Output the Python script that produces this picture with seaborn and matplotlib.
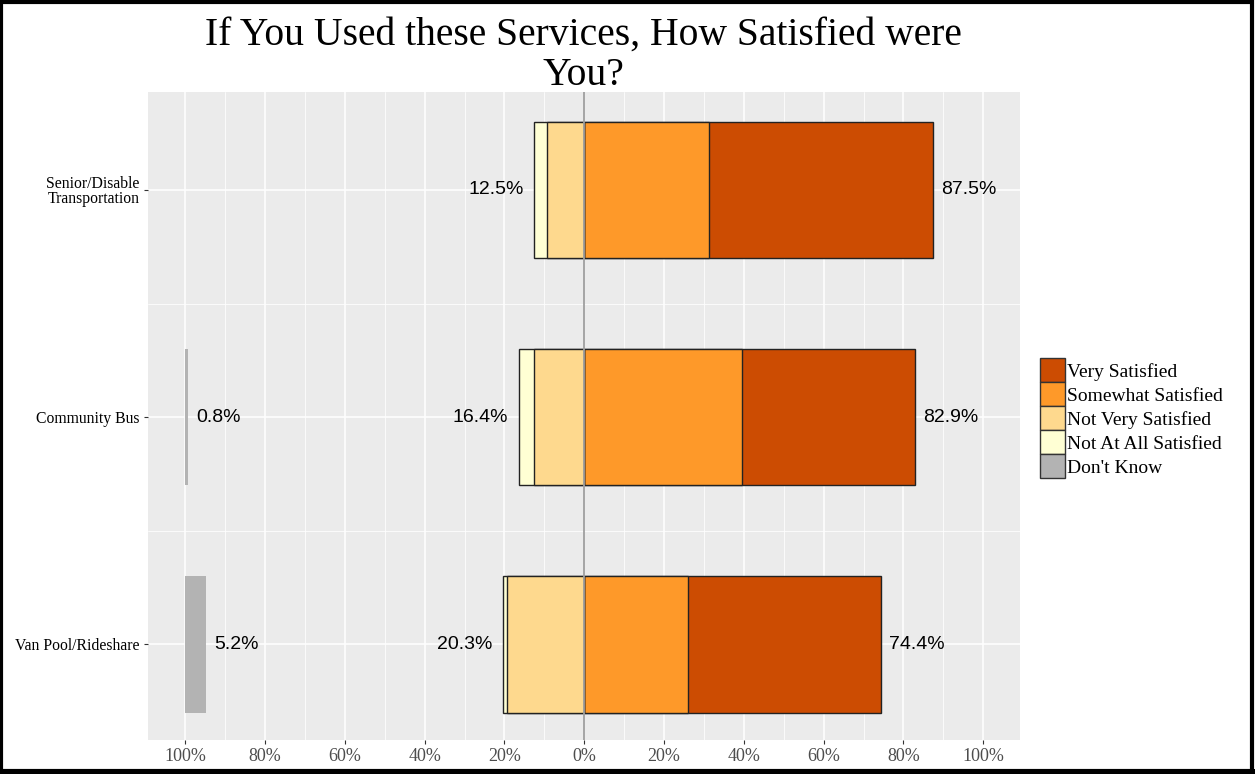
import pandas as pd
import seaborn as sns
import matplotlib.pyplot as plt
from matplotlib.patches import Patch, Rectangle

# survey data (percent of respondents)
services = ["Senior/Disable\nTransportation", "Community Bus", "Van Pool/Rideshare"]
very = [56.25, 43.4, 48.4]
somewhat = [31.25, 39.5, 26.0]
not_very = [9.4, 12.7, 19.3]
not_at_all = [3.1, 3.7, 1.0]
dont_know = [0.0, 0.8, 5.2]

levels = ["Very Satisfied", "Somewhat Satisfied", "Not Very Satisfied",
          "Not At All Satisfied", "Don't Know"]
colors = ["#CC4C02", "#FE9929", "#FED98E", "#FFFFD4", "#B3B3B3"]

df = pd.DataFrame({"service": services, "very": very, "somewhat": somewhat,
                   "not_very": not_very, "not_at_all": not_at_all,
                   "dont_know": dont_know})
df["pos_total"] = df["somewhat"] + df["very"]
df["neg_total"] = -(df["not_very"] + df["not_at_all"])
df["neg_inner"] = -df["not_very"]

sns.set_style("darkgrid", {"axes.facecolor": "#EBEBEB"})
serif = "Liberation Serif"
sans = "Liberation Sans"

fig = plt.figure(figsize=(12.55, 7.74), dpi=100)
ax = fig.add_axes([0.118, 0.044, 0.695, 0.837])

edge = dict(edgecolor="#222222", linewidth=1.0, saturation=1, width=0.6,
            errorbar=None, ax=ax)

# stacked by drawing the longest segment first, shorter ones on top
sns.barplot(data=df, y="service", x="pos_total", color=colors[0], **edge)
sns.barplot(data=df, y="service", x="somewhat", color=colors[1], **edge)
sns.barplot(data=df, y="service", x="neg_total", color=colors[3], **edge)
sns.barplot(data=df, y="service", x="neg_inner", color=colors[2], **edge)

# don't know bars start at the left end of the scale
ax.barh(range(len(services)), df["dont_know"], left=-100, height=0.6,
        color=colors[4], linewidth=0)

ax.axvline(0, color="#9E9E9E", lw=1.3, zorder=6)

# value labels
for i, row in df.iterrows():
    ax.text(row["neg_total"] - 2.6, i, f"{-row['neg_total']:.1f}%", ha="right",
            va="center", fontsize=14, family=sans, color="black")
    ax.text(row["pos_total"] + 2.0, i, f"{row['pos_total']:.1f}%", ha="left",
            va="center", fontsize=14, family=sans, color="black")
    if row["dont_know"] > 0:
        ax.text(-100 + row["dont_know"] + 2.0, i, f"{row['dont_know']:.1f}%",
                ha="left", va="center", fontsize=14, family=sans, color="black")

ticks = list(range(-100, 101, 20))
ax.set_xticks(ticks)
ax.set_xticklabels([f"{abs(t)}%" for t in ticks], family=serif, fontsize=13,
                   color="#4D4D4D")
ax.set_xticks(list(range(-90, 100, 20)), minor=True)
ax.set_yticks(range(len(services)))
ax.set_yticklabels(services, family=serif, fontsize=11.3, color="black",
                   linespacing=0.95)
ax.set_yticks([0.5, 1.5], minor=True)
ax.set_xlim(-109.3, 109.3)
ax.set_ylim(2.42, -0.43)
ax.set_xlabel("")
ax.set_ylabel("")

ax.grid(which="major", color="white", lw=1.1)
ax.grid(which="minor", color="white", lw=0.55)
ax.set_axisbelow(True)
ax.tick_params(which="major", length=3, width=0.8, color="#333333", pad=3,
               bottom=True, left=True)
ax.tick_params(which="minor", length=0)
for s in ax.spines.values():
    s.set_visible(False)

fig.text(0.465, 0.978, "If You Used these Services, How Satisfied were\nYou?",
         ha="center", va="top", family=serif, fontsize=28.5, linespacing=1.12,
         color="black")

handles = [Patch(facecolor=c, edgecolor="#333333", linewidth=1.0) for c in colors]
fig.legend(handles, levels, loc="upper left", bbox_to_anchor=(0.829, 0.537),
           frameon=False, prop={"family": serif, "size": 14},
           labelcolor="black",
           handlelength=1.25, handleheight=1.52, handletextpad=0.12,
           labelspacing=0.0, borderaxespad=0, borderpad=0)

# black frame around the whole image
fig.patches.append(Rectangle((0.001, 0.004), 0.997, 0.994, transform=fig.transFigure,
                             fill=False, edgecolor="black", linewidth=3))
fig.patches.append(Rectangle((0, 0), 1, 0.007, transform=fig.transFigure,
                             facecolor="black", edgecolor="none"))

fig.savefig("out.png", dpi=100)
